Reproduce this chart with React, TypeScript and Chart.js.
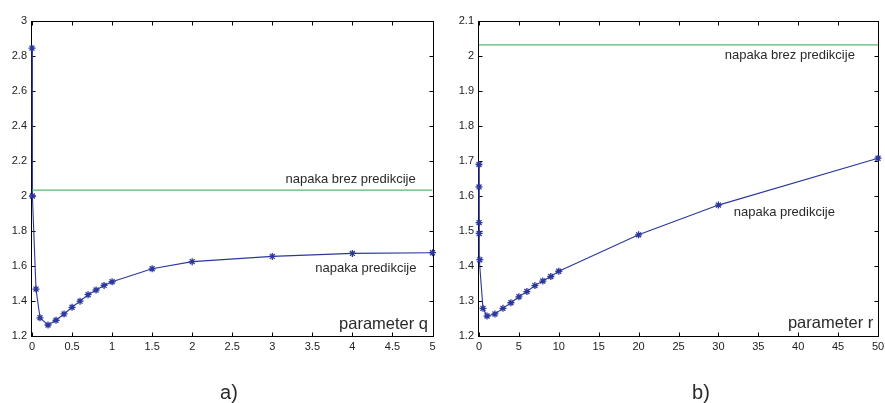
import React, { useEffect, useRef } from "react";
import { Chart, registerables } from "chart.js";

Chart.register(...registerables);

// ---- data: chart a) (parameter q)
const qValues = [0, 0.005, 0.05, 0.1, 0.2, 0.3, 0.4, 0.5, 0.6, 0.7, 0.8, 0.9, 1, 1.5, 2, 3, 4, 5];
const errorQ = [2.845, 2.0, 1.468, 1.304, 1.263, 1.29, 1.326, 1.364, 1.399, 1.436, 1.463, 1.489, 1.51, 1.584, 1.625, 1.655, 1.672, 1.676];
const baselineQ = 2.034;
const xTicksQ = [0, 0.5, 1, 1.5, 2, 2.5, 3, 3.5, 4, 4.5, 5];
const yTicksQ = [1.2, 1.4, 1.6, 1.8, 2, 2.2, 2.4, 2.6, 2.8, 3];

// ---- data: chart b) (parameter r)
const rValues = [0.001, 0.005, 0.01, 0.02, 0.1, 0.5, 1, 2, 3, 4, 5, 6, 7, 8, 9, 10, 20, 30, 50];
const errorR = [1.69, 1.626, 1.524, 1.493, 1.418, 1.279, 1.257, 1.263, 1.279, 1.295, 1.312, 1.327, 1.344, 1.357, 1.37, 1.385, 1.489, 1.574, 1.708];
const baselineR = 2.032;
const xTicksR = [0, 5, 10, 15, 20, 25, 30, 35, 40, 45, 50];
const yTicksR = [1.2, 1.3, 1.4, 1.5, 1.6, 1.7, 1.8, 1.9, 2, 2.1];

// ---- text labels
const labelBaseline = "napaka brez predikcije";
const labelPrediction = "napaka predikcije";
const axisNameQ = "parameter q";
const axisNameR = "parameter r";
const panelA = "a)";
const panelB = "b)";

const BLUE = "#2b379c";
const GREEN = "#55b870";
const TEXT = "#2a2a2a";

type Note = { text: string; x: number; y: number; size: number };

function makeFramePlugin(notes: Note[], panel: string, panelX: number) {
  return {
    id: "frameAndNotes",
    beforeDatasetsDraw(chart: any) {
      const ctx = chart.ctx;
      const { left, right, top, bottom } = chart.chartArea;
      const xs = chart.scales.x;
      const ys = chart.scales.y;
      ctx.save();
      ctx.strokeStyle = "#000";
      ctx.lineWidth = 1;
      const L = Math.round(left) - 0.5;
      const R = Math.round(right) + 0.5;
      const T = Math.round(top) + 0.5;
      const B = Math.round(bottom) + 0.5;
      ctx.strokeRect(L, T, R - L, B - T);
      const len = 4;
      ctx.beginPath();
      xs.ticks.forEach((t: any) => {
        const px = Math.round(xs.getPixelForValue(t.value)) + 0.5;
        ctx.moveTo(px, B);
        ctx.lineTo(px, B - len);
        ctx.moveTo(px, T);
        ctx.lineTo(px, T + len);
      });
      ys.ticks.forEach((t: any) => {
        const py = Math.round(ys.getPixelForValue(t.value)) + 0.5;
        ctx.moveTo(L, py);
        ctx.lineTo(L + len, py);
        ctx.moveTo(R, py);
        ctx.lineTo(R - len, py);
      });
      ctx.stroke();
      ctx.restore();
    },
    afterDraw(chart: any) {
      const ctx = chart.ctx;
      const xs = chart.scales.x;
      const ys = chart.scales.y;
      ctx.save();
      ctx.fillStyle = TEXT;
      ctx.textAlign = "right";
      ctx.textBaseline = "alphabetic";
      notes.forEach((n) => {
        ctx.font = `${n.size}px "Liberation Sans", Arial, sans-serif`;
        ctx.fillText(n.text, xs.getPixelForValue(n.x), ys.getPixelForValue(n.y));
      });
      ctx.textAlign = "center";
      ctx.font = `20px "Liberation Sans", Arial, sans-serif`;
      ctx.fillText(panel, panelX, 399);
      ctx.restore();
    },
  };
}

function buildConfig(
  xs: number[],
  ys: number[],
  baseline: number,
  xTicks: number[],
  yTicks: number[],
  yAxisWidth: number,
  rightPad: number,
  notes: Note[],
  panel: string,
  panelX: number
): any {
  const xmin = xTicks[0];
  const xmax = xTicks[xTicks.length - 1];
  const tickFont = { family: '"Liberation Sans", Arial, sans-serif', size: 11 };
  return {
    type: "scatter",
    data: {
      datasets: [
        {
          data: [
            { x: xmin, y: baseline },
            { x: xmax, y: baseline },
          ],
          showLine: true,
          borderColor: GREEN,
          borderWidth: 1.2,
          pointRadius: 0,
        },
        {
          data: xs.map((x, i) => ({ x, y: ys[i] })),
          showLine: true,
          clip: false,
          borderColor: BLUE,
          backgroundColor: BLUE,
          borderWidth: 1.1,
          pointStyle: "star",
          pointRadius: 3.5,
          pointBorderWidth: 1.3,
          pointBorderColor: BLUE,
        },
      ],
    },
    options: {
      animation: false,
      responsive: false,
      events: [],
      layout: { padding: { top: 21, right: rightPad, bottom: 0, left: 0 } },
      plugins: { legend: { display: false }, tooltip: { enabled: false } },
      scales: {
        x: {
          type: "linear",
          min: xmin,
          max: xmax,
          grid: { display: false, drawTicks: false, tickLength: 0 },
          border: { display: false },
          afterBuildTicks: (s: any) => {
            s.ticks = xTicks.map((v) => ({ value: v }));
          },
          afterFit: (s: any) => {
            s.height = 67;
            s.paddingLeft = 0;
            s.paddingRight = 0;
          },
          ticks: {
            autoSkip: false,
            maxRotation: 0,
            padding: 4,
            color: "#222",
            font: tickFont,
            callback: (v: any) => String(v),
          },
        },
        y: {
          type: "linear",
          min: yTicks[0],
          max: yTicks[yTicks.length - 1],
          grid: { display: false, drawTicks: false, tickLength: 0 },
          border: { display: false },
          afterBuildTicks: (s: any) => {
            s.ticks = yTicks.map((v) => ({ value: v }));
          },
          afterFit: (s: any) => {
            s.width = yAxisWidth;
            s.paddingTop = 0;
            s.paddingBottom = 0;
          },
          ticks: {
            autoSkip: false,
            padding: 5,
            color: "#222",
            font: tickFont,
            callback: (v: any) => String(v),
          },
        },
      },
    },
    plugins: [makeFramePlugin(notes, panel, panelX)],
  };
}

export default function App() {
  const leftRef = useRef<HTMLCanvasElement>(null);
  const rightRef = useRef<HTMLCanvasElement>(null);

  useEffect(() => {
    const notesQ: Note[] = [
      { text: labelBaseline, x: 4.79, y: 2.074, size: 13 },
      { text: labelPrediction, x: 4.8, y: 1.563, size: 13 },
      { text: axisNameQ, x: 4.944, y: 1.24, size: 16.5 },
    ];
    const notesR: Note[] = [
      { text: labelBaseline, x: 47.1, y: 1.991, size: 13 },
      { text: labelPrediction, x: 44.6, y: 1.543, size: 13 },
      { text: axisNameR, x: 49.4, y: 1.223, size: 16.5 },
    ];
    const c1 = new Chart(
      leftRef.current as HTMLCanvasElement,
      buildConfig(qValues, errorQ, baselineQ, xTicksQ, yTicksQ, 32, 7.5, notesQ, panelA, 229)
    );
    const c2 = new Chart(
      rightRef.current as HTMLCanvasElement,
      buildConfig(rValues, errorR, baselineR, xTicksR, yTicksR, 39, 7, notesR, panelB, 701 - 440)
    );
    return () => {
      c1.destroy();
      c2.destroy();
    };
  }, []);

  return (
    <div style={{ position: "fixed", left: 0, top: 0, width: 885, height: 403, background: "#fff" }}>
      <canvas ref={leftRef} width={440} height={403} style={{ position: "absolute", left: 0, top: 0 }} />
      <canvas ref={rightRef} width={445} height={403} style={{ position: "absolute", left: 440, top: 0 }} />
    </div>
  );
}
